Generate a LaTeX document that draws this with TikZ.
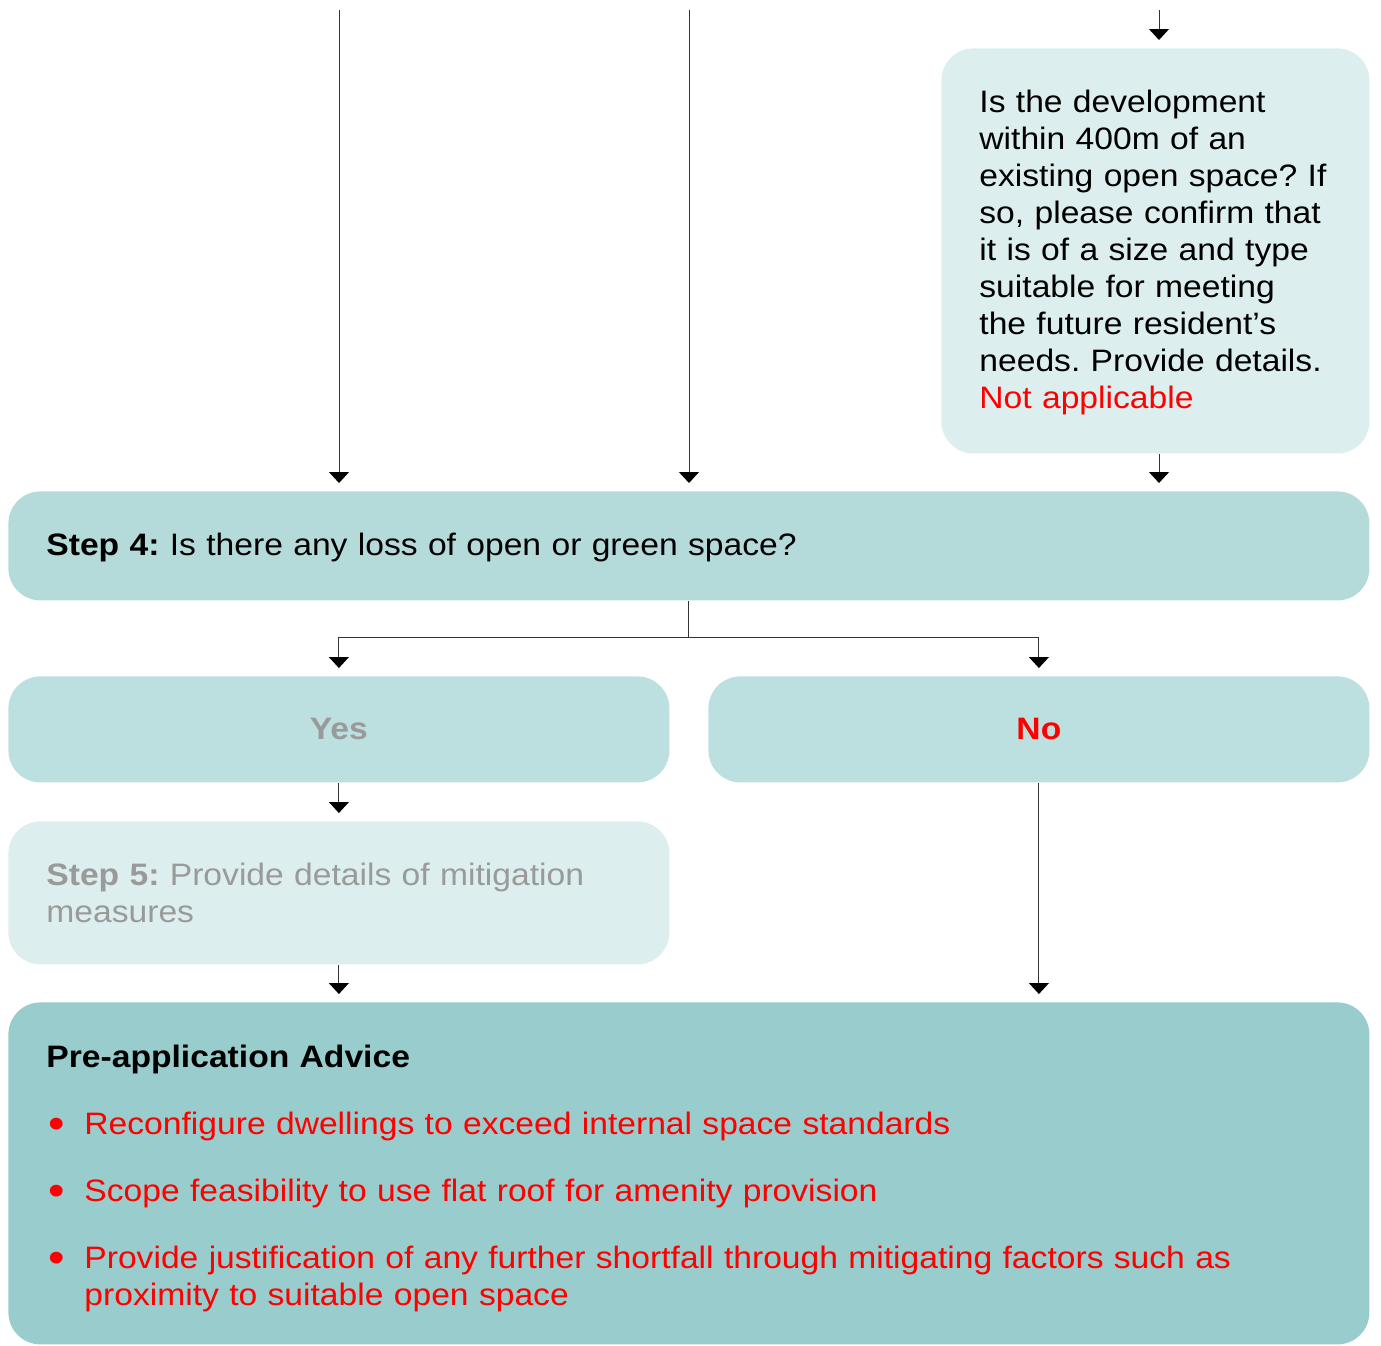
\documentclass[tikz,border=0pt]{standalone}
\usepackage{fontspec}
\setmainfont{Liberation Sans}[FakeStretch=1.085]
\usetikzlibrary{arrows.meta,positioning}

\definecolor{tealmid}{HTML}{B4DADA}
\definecolor{teallight}{HTML}{DDEEEE}
\definecolor{tealans}{HTML}{BCDFE0}
\definecolor{tealdark}{HTML}{99CCCC}
\definecolor{fadedgrey}{HTML}{9A9A9A}
\definecolor{linegrey}{HTML}{333333}
\definecolor{notered}{HTML}{FF0000}

\newcommand\advbullet{\makebox[19pt][l]{\hspace*{1pt}\raisebox{-2.3pt}{\scalebox{1.4}{\textbullet}}}}

\tikzset{
  panel/.style={rounded corners=16pt, inner xsep=19pt, inner ysep=0pt,
    anchor=north west, align=left, font=\fontsize{15.5}{18.5}\selectfont},
  flow/.style={->, draw=linegrey, line width=0.5pt, shorten >=4pt},
}

\begin{document}
\frenchspacing
\begin{tikzpicture}[x=0.5pt, y=-0.5pt, >={Triangle[width=10pt,length=5.5pt,color=black]}]
  \useasboundingbox (0,0) rectangle (1381,1345);
  % feeds from above
  \coordinate (feedA) at (339,10);
  \coordinate (feedB) at (689,10);
  \coordinate (feedC) at (1159,10);

  \node[panel, fill=teallight, minimum width=214pt, text width=176pt, minimum height=202.5pt] (openq) at (941,48)
    {\rule{0pt}{13pt}Is the development\\within 400m of an\\existing open space? If\\so, please confirm that\\it is of a size and type\\suitable for meeting\\the future resident’s\\needs. Provide details.\\{\color{notered}Not applicable}};
  \node[panel, fill=tealmid, minimum width=680.5pt, text width=642.5pt, minimum height=54.5pt] (step4) at (8,491)
    {\rule{0pt}{13pt}\textbf{Step 4:} Is there any loss of open or green space?};
  \node[panel, fill=tealans, align=center, minimum width=330.5pt, text width=292.5pt, minimum height=53pt,
    text=fadedgrey, font=\fontsize{15.5}{18.5}\selectfont\bfseries] (yes) at (8,676) {Yes};
  \node[panel, fill=tealans, align=center, minimum width=330.5pt, text width=292.5pt, minimum height=53pt,
    text=notered, font=\fontsize{15.5}{18.5}\selectfont\bfseries] (no) at (708,676) {No};
  \node[panel, fill=teallight, minimum width=330.5pt, text width=292.5pt, minimum height=71.5pt,
    text=fadedgrey] (step5) at (8,821)
    {\textbf{Step 5:} Provide details of mitigation\\measures};
  \node[panel, fill=tealdark, minimum width=680.5pt, text width=642.5pt, minimum height=171pt,
    text=notered] (advice) at (8,1002)
    {\rule{0pt}{16pt}{\color{black}\bfseries Pre-application Advice}\\[15pt]
     \advbullet Reconfigure dwellings to exceed internal space standards\\[15pt]
     \advbullet Scope feasibility to use flat roof for amenity provision\\[15pt]
     \advbullet Provide justification of any further shortfall through mitigating factors such as\\
     \hspace*{19pt}proximity to suitable open space};

  \draw[flow] (feedA) -- (feedA |- step4.north);
  \draw[flow] (feedB) -- (feedB |- step4.north);
  \draw[flow] (feedC) -- (feedC |- openq.north);
  \draw[flow] (openq.south -| feedC) -- (feedC |- step4.north);
  \draw[draw=linegrey, line width=0.5pt] (step4.south) -- ++(0,37) coordinate (fork);
  \draw[flow] (fork) -| (yes.north);
  \draw[flow] (fork) -| (no.north);
  \draw[flow] (yes.south) -- (step5.north);
  \draw[flow] (step5.south) -- (step5.south |- advice.north);
  \draw[flow] (no.south) -- (no.south |- advice.north);
\end{tikzpicture}
\end{document}
